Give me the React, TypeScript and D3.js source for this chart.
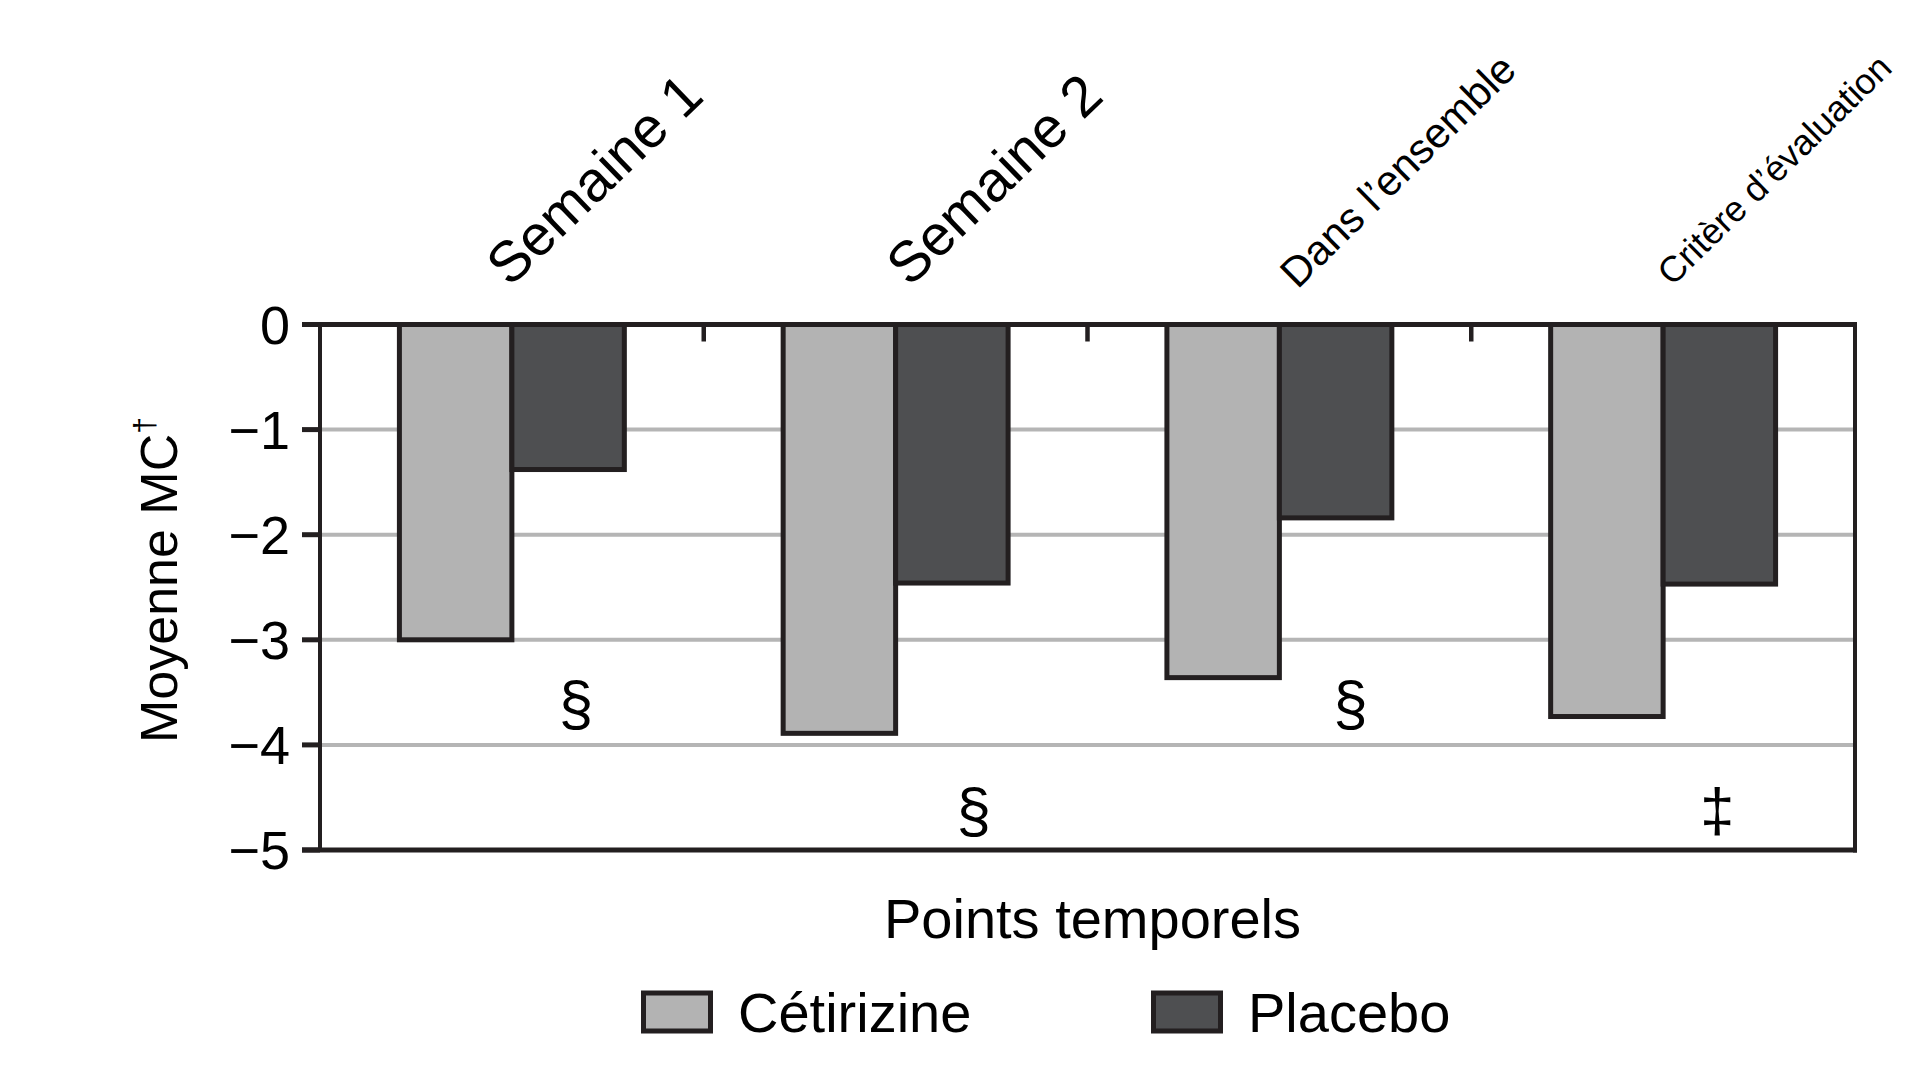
import React from "react";
import * as d3 from "d3";

// ---- data ----
const categories = ["Semaine 1", "Semaine 2", "Dans l\u2019ensemble", "Crit\u00e8re d\u2019\u00e9valuation"];
const seriesNames = ["C\u00e9tirizine", "Placebo"];
const cetirizine = [-3.0, -3.89, -3.36, -3.73];
const placebo = [-1.38, -2.46, -1.84, -2.47];
const yTicks = [0, -1, -2, -3, -4, -5];
const annotationMarks = ["\u00a7", "\u00a7", "\u00a7", "\u2021"];
const annotationLevels = [-3.64, -4.66, -3.64, -4.66];
const xTitle = "Points temporels";
const yTitle = "Moyenne MC";

// ---- style ----
const W = 1915;
const H = 1067;
const FONT = "'Liberation Sans', Arial, Helvetica, sans-serif";
const INK = "#231f20";
const FILLS = ["#b3b3b3", "#4e4f51"];
const GRID = "#b5b5b5";
const labelFont = [57, 57, 42, 36];
const labelAngle = [-44, -44, -44.6, -44.4];
const labelDx = [-2, 14, 18, 9];
const labelY = [288, 288, 290, 287];
const annotDx = [8, 22, 15, -2];
const ANNOT_FS = 62;

export default function App() {
  const left = 320;
  const right = 1855;
  const top = 324.5;
  const bottom = 850;

  const y = d3.scaleLinear().domain([0, -5]).range([top, bottom]);
  const x0 = d3.scaleBand<string>().domain(categories).range([left, right]).padding(0);
  const x1 = d3
    .scaleBand<string>()
    .domain(seriesNames)
    .range([0, x0.bandwidth()])
    .paddingInner(0)
    .paddingOuter(0.706);

  const values = [cetirizine, placebo];
  const boundaries = categories.slice(1).map((c) => x0(c) as number);

  return (
    <svg
      width={W}
      height={H}
      style={{ position: "absolute", left: 0, top: 0, background: "#fff" }}
      fontFamily={FONT}
    >
      {/* gridlines */}
      {yTicks
        .filter((t) => t !== 0 && t !== -5)
        .map((t) => (
          <line key={"g" + t} x1={left} x2={right} y1={y(t)} y2={y(t)} stroke={GRID} strokeWidth={4} />
        ))}

      {/* bars */}
      {categories.map((c, i) =>
        seriesNames.map((s, j) => {
          const v = values[j][i];
          const bx = (x0(c) as number) + (x1(s) as number);
          return (
            <rect
              key={c + s}
              x={bx}
              y={y(0)}
              width={x1.bandwidth()}
              height={y(v) - y(0)}
              fill={FILLS[j]}
              stroke={INK}
              strokeWidth={5}
            />
          );
        })
      )}

      {/* frame */}
      <line x1={left} x2={left} y1={top} y2={bottom} stroke={INK} strokeWidth={4} />
      <line x1={right} x2={right} y1={top - 2.5} y2={bottom + 2.5} stroke={INK} strokeWidth={4} />
      <line x1={302} x2={right + 2} y1={y(0)} y2={y(0)} stroke={INK} strokeWidth={5} />
      <line x1={302} x2={right + 2} y1={y(-5)} y2={y(-5)} stroke={INK} strokeWidth={5} />

      {/* category boundary ticks on top axis */}
      {boundaries.map((bx, i) => (
        <line key={"b" + i} x1={bx} x2={bx} y1={top} y2={top + 17} stroke={INK} strokeWidth={4.5} />
      ))}

      {/* y ticks and labels */}
      {yTicks.map((t) => (
        <g key={"t" + t}>
          <line x1={302} x2={left} y1={y(t)} y2={y(t)} stroke={INK} strokeWidth={5} />
          <text x={290} y={y(t) + 0.358 * 54} textAnchor="end" fontSize={54} fill="#000">
            {t === 0 ? "0" : "\u2212" + Math.abs(t)}
          </text>
        </g>
      ))}

      {/* annotations */}
      {categories.map((c, i) => {
        const cx = (x0(c) as number) + (x1("Placebo") as number) + x1.bandwidth() / 2 + annotDx[i];
        return (
          <text
            key={"a" + i}
            x={cx}
            y={y(annotationLevels[i]) + 0.27 * ANNOT_FS}
            textAnchor="middle"
            fontSize={ANNOT_FS}
            fill="#000"
          >
            {annotationMarks[i]}
          </text>
        );
      })}

      {/* category labels (rotated) */}
      {categories.map((c, i) => {
        const cx = (x0(c) as number) + x0.bandwidth() / 2 + labelDx[i];
        const cy = labelY[i];
        return (
          <text
            key={"l" + i}
            x={cx}
            y={cy}
            transform={`rotate(${labelAngle[i]} ${cx} ${cy})`}
            fontSize={labelFont[i]}
            fill="#000"
          >
            {c}
          </text>
        );
      })}

      {/* y title */}
      <text x={177} y={743} transform="rotate(-90 177 743)" fontSize={52} fill="#000">
        {yTitle}
        <tspan fontSize={30} dy={-22}>
          {"\u2020"}
        </tspan>
      </text>

      {/* x title */}
      <text x={(left + right) / 2 + 5} y={938} textAnchor="middle" fontSize={56} fill="#000">
        {xTitle}
      </text>

      {/* legend */}
      {seriesNames.map((s, j) => {
        const lx = [641, 1151][j];
        return (
          <g key={"lg" + s}>
            <rect x={lx + 2.5} y={993} width={67} height={38} fill={FILLS[j]} stroke={INK} strokeWidth={5} />
            <text x={lx + 97} y={1032} fontSize={56} fill="#000">
              {s}
            </text>
          </g>
        );
      })}
    </svg>
  );
}
